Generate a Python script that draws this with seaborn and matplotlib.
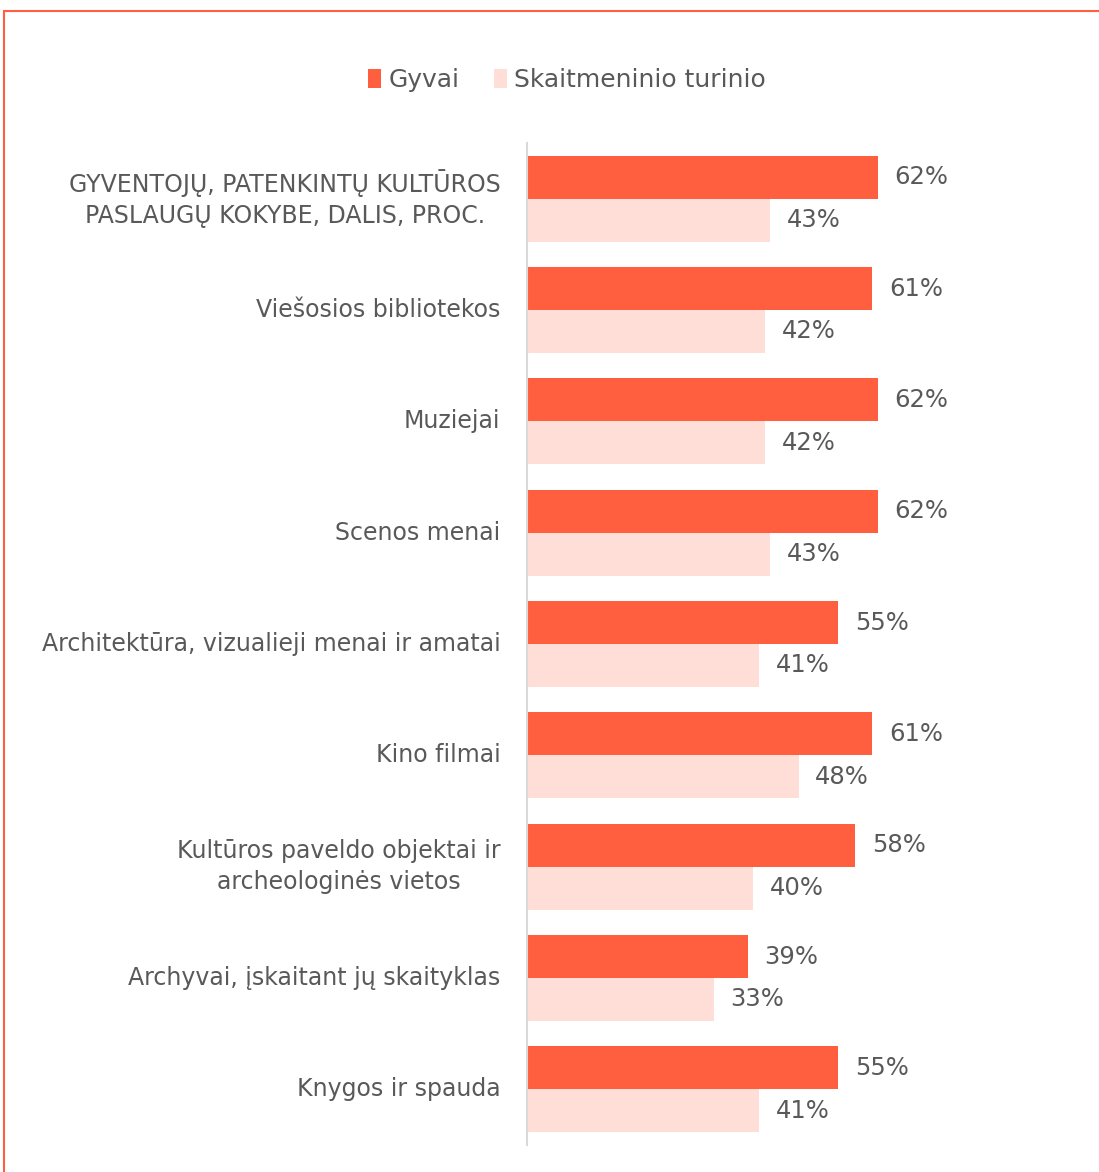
import matplotlib
matplotlib.use("Agg")
import matplotlib.pyplot as plt
import seaborn as sns
import pandas as pd
from matplotlib.patches import Rectangle, Patch

categories = [
    "GYVENTOJŲ, PATENKINTŲ KULTŪROS\nPASLAUGŲ KOKYBE, DALIS, PROC.",
    "Viešosios bibliotekos",
    "Muziejai",
    "Scenos menai",
    "Architektūra, vizualieji menai ir amatai",
    "Kino filmai",
    "Kultūros paveldo objektai ir\narcheologinės vietos",
    "Archyvai, įskaitant jų skaityklas",
    "Knygos ir spauda",
]
series_names = ["Gyvai", "Skaitmeninio turinio"]
gyvai = [62, 61, 62, 62, 55, 61, 58, 39, 55]
skaitmeninio = [43, 42, 42, 43, 41, 48, 40, 33, 41]
colors = ["#FF5F3F", "#FFDED8"]

df = pd.DataFrame({
    "category": categories * 2,
    "series": [series_names[0]] * len(categories) + [series_names[1]] * len(categories),
    "value": gyvai + skaitmeninio,
})

sns.set_theme(style="white")
plt.rcParams["font.family"] = ["DejaVu Sans"]
text_color = "#595959"

fig = plt.figure(figsize=(10.99, 11.72), dpi=100)
ax = fig.add_axes([527 / 1099, 1 - 1145 / 1172, 566 / 1099, (1145 - 143) / 1172])

sns.barplot(data=df, y="category", x="value", hue="series", orient="h",
            palette=colors, order=categories, hue_order=series_names,
            width=0.77, saturation=1, ax=ax, legend=False, edgecolor="none")

ax.set_xlim(0, 100)
ax.set_ylim(len(categories) - 0.5, -0.5)
ax.set_xlabel("")
ax.set_ylabel("")
ax.set_xticks([])
for s in ["top", "right", "bottom"]:
    ax.spines[s].set_visible(False)
ax.spines["left"].set_color("#D9D9D9")
ax.spines["left"].set_linewidth(1.5)
ax.tick_params(axis="y", length=0, pad=19, labelsize=17, labelcolor=text_color)
for lbl in ax.get_yticklabels():
    lbl.set_multialignment("center")
    lbl.set_linespacing(1.4)
    lbl.set_verticalalignment("center")

for container in ax.containers:
    ax.bar_label(container, labels=[f"{int(v)}%" for v in container.datavalues],
                 padding=12, fontsize=17.5, color=text_color)

handles = [Patch(facecolor=c, edgecolor="none") for c in colors]
fig.legend(handles, series_names, loc="center", bbox_to_anchor=(567 / 1099, 1 - 80 / 1172),
           ncol=2, frameon=False, fontsize=18, labelcolor=text_color,
           handlelength=0.5, handleheight=0.8, handletextpad=0.3, columnspacing=1.4)

border = Rectangle((4 / 1099, -0.05), 1.2, 1 - 11 / 1172 + 0.05, transform=fig.transFigure,
                   fill=False, edgecolor="#FF5F3F", linewidth=1.5, clip_on=False)
fig.patches.append(border)

fig.savefig("out.png", dpi=100)
